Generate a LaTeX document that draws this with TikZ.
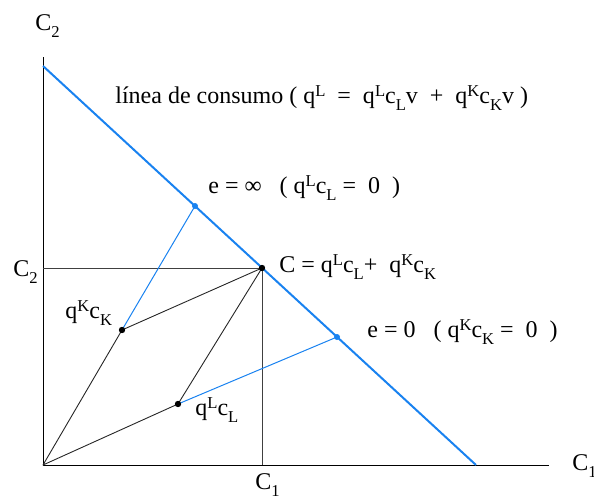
\documentclass[tikz,border=0pt]{standalone}
\usepackage{fontspec}
\setmainfont{Liberation Serif}
\newfontfamily\figfont{Liberation Serif}
\usetikzlibrary{calc}
\definecolor{lineblue}{RGB}{25,130,240}
\newcommand{\up}[1]{\raisebox{3.2pt}{\fontsize{8.3}{8}\selectfont #1}}
\newcommand{\dn}[1]{\raisebox{-3.6pt}{\fontsize{8.3}{8}\selectfont #1}}
\tikzset{
  axis/.style={line width=0.5pt},
  guide/.style={line width=0.5pt,black!75},
  vec/.style={line width=0.45pt,black!85},
  budget/.style={line width=1pt,lineblue},
  ray/.style={line width=0.5pt,lineblue},
  lbl/.style={anchor=base west,inner sep=0pt}
}

\begin{document}
\begin{tikzpicture}[x=0.5pt,y=-0.5pt,line join=round,font=\figfont\fontsize{12}{14}\selectfont]
\useasboundingbox (0,0) rectangle (594,498);
% --- points
\coordinate (O) at (43,465);
\coordinate (Ytop) at (43,57);
\coordinate (Xend) at (549,465);
\coordinate (B0) at (43,66);
\coordinate (B1) at (476,465);
\coordinate (C) at (262,268);
\coordinate (C2) at (43,268);
\coordinate (C1) at (262,465);
\coordinate (QK) at (122,330);
\coordinate (QL) at (178,404);
\coordinate (Einf) at (195,206);
\coordinate (Ezero) at (337,337);
% --- axes and guides
\draw[axis] (Ytop) -- (O) -- (Xend);
\draw[guide] (C2) -- (C) -- (C1);
% --- parallelogram
\draw[vec] (O) -- (QK) -- (C) -- (QL) -- cycle;
% --- consumption line and rays
\draw[budget] (B0) -- (B1);
\draw[ray] (QK) -- (Einf);
\draw[ray] (QL) -- (Ezero);
\foreach \p in {C,QK,QL} \fill (\p) circle (3.2);
\foreach \p in {Einf,Ezero} \fill[lineblue] (\p) circle (3);
% --- labels
\node[lbl] (yname) at (35,30) {C\dn{2}};
\node[lbl] (xname) at (572,470) {C\dn{1}};
\node[lbl] (c2val) at (13,276) {C\dn{2}};
\node[lbl] (c1val) at (255,489) {C\dn{1}};
\node[lbl] (line) at (115,103) {línea de consumo ( q\up{L} ~=~ q\up{L}c\dn{L}v ~+~ q\up{K}c\dn{K}v )};
\node[lbl] (einf) at (208,193) {e = ∞ ~~( q\up{L}c\dn{L} = ~0 ~)};
\node[lbl] (csum) at (279,272) {C = q\up{L}c\dn{L}+ ~q\up{K}c\dn{K}};
\node[lbl] (qk) at (65,318) {q\up{K}c\dn{K}};
\node[lbl] (ezero) at (367,337) {e = 0 ~~( q\up{K}c\dn{K} = ~0 ~)};
\node[lbl] (ql) at (195,415) {q\up{L}c\dn{L}};
\end{tikzpicture}
\end{document}
